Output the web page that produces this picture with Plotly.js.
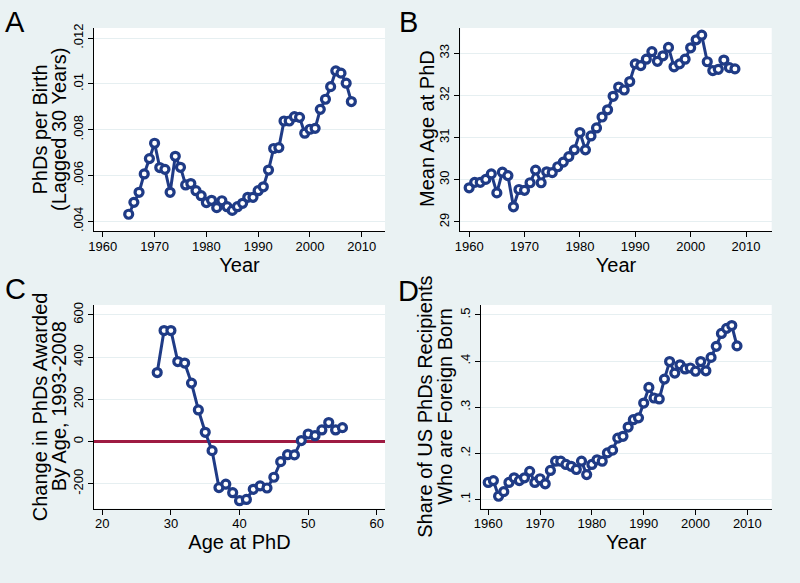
<!DOCTYPE html>
<html>
<head>
<meta charset="utf-8">
<script src="https://cdn.plot.ly/plotly-3.0.1.min.js"></script>
<style>html,body{margin:0;padding:0;background:#eaf2f3;}#chart{width:800px;height:583px;}</style>
</head>
<body>
<div id="chart"></div>
<script>
// Panel A: PhDs per birth (lagged 30 years)
const yearsA = [1965,1966,1967,1968,1969,1970,1971,1972,1973,1974,1975,1976,1977,1978,1979,1980,1981,1982,1983,1984,1985,1986,1987,1988,1989,1990,1991,1992,1993,1994,1995,1996,1997,1998,1999,2000,2001,2002,2003,2004,2005,2006,2007,2008];
const phdsPerBirth = [0.00431,0.00483,0.00527,0.00607,0.00674,0.00741,0.00635,0.00627,0.00527,0.00684,0.00636,0.00559,0.00565,0.00534,0.00512,0.00482,0.00492,0.00460,0.00490,0.00464,0.00448,0.00464,0.00479,0.00505,0.00505,0.00534,0.00551,0.00624,0.00718,0.00722,0.00838,0.00838,0.00857,0.00854,0.00785,0.00802,0.00806,0.00889,0.00933,0.00988,0.01057,0.01047,0.01003,0.00923];

// Panel B: mean age at PhD
const yearsB = [1960,1961,1962,1963,1964,1965,1966,1967,1968,1969,1970,1971,1972,1973,1974,1975,1976,1977,1978,1979,1980,1981,1982,1983,1984,1985,1986,1987,1988,1989,1990,1991,1992,1993,1994,1995,1996,1997,1998,1999,2000,2001,2002,2003,2004,2005,2006,2007,2008];
const meanAge = [29.81,29.94,29.94,30.01,30.14,29.69,30.18,30.10,29.36,29.77,29.75,29.93,30.23,29.93,30.19,30.17,30.31,30.42,30.55,30.71,31.12,30.71,31.04,31.23,31.49,31.66,31.98,32.20,32.13,32.33,32.75,32.71,32.86,33.04,32.81,32.94,33.14,32.68,32.75,32.86,33.13,33.32,33.43,32.80,32.59,32.62,32.84,32.66,32.63];

// Panel C: change in PhDs awarded by age, 1993-2008
const ages = [28,29,30,31,32,33,34,35,36,37,38,39,40,41,42,43,44,45,46,47,48,49,50,51,52,53,54,55];
const changeByAge = [327,526,526,379,372,277,150,44,-43,-218,-202,-242,-280,-274,-226,-210,-220,-169,-95,-62,-63,5,36,28,55,90,55,66];

// Panel D: share of US PhD recipients who are foreign born
const yearsD = [1960,1961,1962,1963,1964,1965,1966,1967,1968,1969,1970,1971,1972,1973,1974,1975,1976,1977,1978,1979,1980,1981,1982,1983,1984,1985,1986,1987,1988,1989,1990,1991,1992,1993,1994,1995,1996,1997,1998,1999,2000,2001,2002,2003,2004,2005,2006,2007,2008];
const foreignShare = [0.137,0.141,0.107,0.117,0.137,0.147,0.141,0.147,0.161,0.137,0.145,0.134,0.163,0.183,0.183,0.176,0.172,0.165,0.183,0.154,0.176,0.186,0.183,0.201,0.207,0.233,0.237,0.257,0.273,0.277,0.309,0.343,0.320,0.318,0.361,0.399,0.374,0.392,0.383,0.385,0.378,0.399,0.379,0.408,0.432,0.460,0.471,0.477,0.433];

// Tick values / labels
const yearTicks = [1960,1970,1980,1990,2000,2010];
const yearTickText = ['1960','1970','1980','1990','2000','2010'];
const aYTicks = [0.004,0.006,0.008,0.010,0.012];
const aYText = ['.004','.006','.008','.01','.012'];
const bYTicks = [29,30,31,32,33];
const bYText = ['29','30','31','32','33'];
const ageTicks = [20,30,40,50,60];
const ageTickText = ['20','30','40','50','60'];
const cYTicks = [-200,0,200,400,600];
const cYText = ['-200','0','200','400','600'];
const dYTicks = [0.1,0.2,0.3,0.4,0.5];
const dYText = ['.1','.2','.3','.4','.5'];

// Titles
const panelLetters = ['A','B','C','D'];
const aYTitle = ['PhDs per Birth','(Lagged 30 Years)'];
const bYTitle = ['Mean Age at PhD'];
const cYTitle = ['Change in PhDs Awarded','By Age, 1993-2008'];
const dYTitle = ['Share of US PhDs Recipients','Who are Foreign Born'];

const NAVY = '#1f3b86';
const MAROON = '#9e1b42';
const FONT = 'Arial, "Liberation Sans", Helvetica, sans-serif';

function trace(x, y, xa, ya) {
  return {
    x: x, y: y, xaxis: xa, yaxis: ya, type: 'scatter', mode: 'lines+markers',
    line: {color: NAVY, width: 3},
    marker: {symbol: 'circle', size: 8, color: '#ffffff', line: {color: NAVY, width: 3.2}},
    showlegend: false, hoverinfo: 'x+y'
  };
}

const data = [
  trace(yearsA, phdsPerBirth, 'x', 'y'),
  trace(yearsB, meanAge, 'x2', 'y2'),
  trace(ages, changeByAge, 'x3', 'y3'),
  trace(yearsD, foreignShare, 'x4', 'y4')
];

function xAxis(domain, range, tv, tt, title, anchor) {
  return {
    domain: domain, range: range, anchor: anchor,
    tickmode: 'array', tickvals: tv, ticktext: tt,
    ticks: 'outside', ticklen: 5, tickwidth: 1, tickcolor: '#000',
    ticklabelstandoff: -2,
    showline: true, linecolor: '#000', linewidth: 1,
    showgrid: false, zeroline: false,
    tickfont: {family: FONT, size: 13, color: '#000'},
    title: {text: title, font: {family: FONT, size: 20, color: '#000'}, standoff: 0}
  };
}
function yAxis(domain, range, tv, tt, anchor, zeroRed) {
  return {
    domain: domain, range: range, anchor: anchor,
    tickmode: 'array', tickvals: tv, ticktext: tt, tickangle: -90,
    ticks: 'outside', ticklen: 5, tickwidth: 1, tickcolor: '#000',
    showline: true, linecolor: '#000', linewidth: 1,
    showgrid: true, gridcolor: '#e6eff1', gridwidth: 1,
    zeroline: !!zeroRed, zerolinecolor: MAROON, zerolinewidth: 3,
    tickfont: {family: FONT, size: 13, color: '#000'}
  };
}

const topY = [1 - 231/583, 1 - 28/583];
const botY = [1 - 508.5/583, 1 - 305/583];

function yTitle(text, xpx, ypx) {
  return {text: text, x: xpx/800, y: 1 - ypx/583, xref: 'paper', yref: 'paper',
    xanchor: 'center', yanchor: 'middle', textangle: -90, showarrow: false,
    font: {family: FONT, size: 20, color: '#000'}};
}
function letter(text, xpx, ypx) {
  return {text: text, x: xpx/800, y: 1 - ypx/583, xref: 'paper', yref: 'paper',
    xanchor: 'left', yanchor: 'top', showarrow: false,
    font: {family: FONT, size: 29, color: '#000'}};
}

const layout = {
  width: 800, height: 583,
  margin: {l: 0, r: 0, t: 0, b: 0},
  paper_bgcolor: '#eaf2f3',
  plot_bgcolor: '#ffffff',
  font: {family: FONT, color: '#000'},
  xaxis: xAxis([94/800, 385/800], [1958.3, 2014.5], yearTicks, yearTickText, 'Year', 'y'),
  yaxis: yAxis(topY, [0.00358, 0.01244], aYTicks, aYText, 'x', false),
  xaxis2: xAxis([460.3/800, 771.7/800], [1958.4, 2014.64], yearTicks, yearTickText, 'Year', 'y2'),
  yaxis2: yAxis(topY, [28.786, 33.6], bYTicks, bYText, 'x2', false),
  xaxis3: xAxis([94/800, 385/800], [18.79, 61.2], ageTicks, ageTickText, 'Age at PhD', 'y3'),
  yaxis3: yAxis(botY, [-317, 647], cYTicks, cYText, 'x3', true),
  xaxis4: xAxis([480.7/800, 771.7/800], [1958.55, 2014.7], yearTicks, yearTickText, 'Year', 'y4'),
  yaxis4: yAxis(botY, [0.0805, 0.5216], dYTicks, dYText, 'x4', false),
  annotations: [
    letter(panelLetters[0], 3, 4),
    letter(panelLetters[1], 397, 4),
    letter(panelLetters[2], 3, 271),
    letter(panelLetters[3], 396, 273),
    yTitle(aYTitle[0], 39, 129.5),
    yTitle(aYTitle[1], 58.5, 129.5),
    yTitle(bYTitle[0], 427, 128),
    yTitle(cYTitle[0], 39.5, 406.8),
    yTitle(cYTitle[1], 58.5, 406.8),
    yTitle(dYTitle[0], 425, 406.8),
    yTitle(dYTitle[1], 445, 406.8)
  ]
};

Plotly.newPlot('chart', data, layout, {displayModeBar: false, staticPlot: true});
</script>
</body>
</html>
